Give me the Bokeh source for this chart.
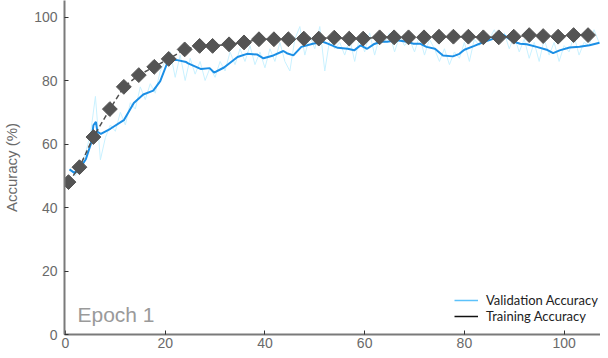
import math
from bokeh.plotting import figure
from bokeh.models import Range1d, Legend, LegendItem, Label, FixedTicker
from bokeh.embed import file_html
from bokeh.resources import INLINE

# Training accuracy (markers every ~3 epochs)
train_epoch = [0.6, 2.8, 5.6, 8.9, 11.7, 14.7, 17.8, 20.7, 23.9, 26.9, 29.5, 32.8,
               35.8, 38.8, 41.8, 44.7, 47.8, 50.8, 53.9, 56.9, 59.7, 63.0, 65.9, 68.8,
               71.9, 74.9, 77.8, 80.8, 83.8, 86.9, 89.9, 93.0, 95.8, 98.8, 101.9, 104.8]
train_acc = [48.0, 52.7, 62.2, 71.0, 78.0, 81.7, 84.3, 86.8, 89.8, 90.9, 90.9, 91.4,
             92.0, 93.0, 93.0, 93.0, 93.2, 93.2, 93.5, 93.2, 93.2, 93.6, 93.6, 93.6,
             93.6, 93.8, 93.8, 93.8, 93.6, 93.6, 93.8, 94.3, 94.0, 93.8, 94.3, 94.3]

# Smoothed validation accuracy
val_s_epoch = [0.8, 1.8, 2.8, 4.1, 5.1, 5.6, 6.1, 6.4, 7.1, 9.0, 11.7, 13.7, 15.6, 17.6,
               19.0, 20.6, 22.2, 24.2, 24.6, 27.2, 28.9, 29.8, 31.8, 34.5, 36.4, 38.4,
               39.7, 41.7, 43.7, 44.4, 45.7, 47.3, 49.6, 51.6, 52.6, 54.6, 56.6, 57.9,
               59.2, 60.5, 61.8, 63.2, 64.5, 66.5, 68.5, 69.8, 71.1, 72.4, 74.1, 75.7,
               77.7, 79.0, 80.0, 82.0, 84.0, 85.9, 87.9, 89.9, 91.2, 92.5, 94.5, 96.5,
               97.8, 99.1, 101.1, 103.1, 105.1, 107.1]
val_s_acc = [52.0, 50.9, 52.1, 55.3, 60.1, 65.9, 67.0, 63.8, 63.2, 64.8, 67.5, 72.9, 75.6, 76.8,
             79.8, 86.3, 86.5, 85.8, 85.4, 83.6, 83.9, 82.5, 84.1, 87.4, 88.4, 88.2,
             87.0, 87.9, 89.3, 88.6, 87.9, 90.6, 91.6, 92.2, 91.6, 90.3, 90.0, 89.5,
             91.1, 90.0, 91.4, 92.2, 92.2, 92.7, 92.2, 91.6, 91.6, 90.6, 90.0, 87.9,
             87.6, 88.4, 89.7, 90.9, 92.2, 93.2, 94.3, 92.2, 91.6, 91.4, 90.6, 89.7,
             88.6, 89.5, 90.4, 90.6, 91.1, 91.9]

# Raw validation accuracy (per epoch)
val_r_epoch = list(range(1, 108))
val_r_acc = [52, 50, 53, 57, 63, 75, 55, 62, 66, 64, 70, 66, 73, 71, 78, 74, 79, 76, 83, 86,
             89, 81, 88, 80, 87, 82, 86, 80, 84, 81, 86, 83, 89, 85, 90, 86, 91, 85, 89, 84,
             90, 86, 92, 86, 83, 93, 97, 88, 94, 90, 97, 83, 93, 90, 92, 88, 93, 86, 94, 89,
             95, 88, 94, 92, 95, 89, 94, 91, 93, 89, 94, 88, 93, 90, 86, 90, 85, 89, 87, 92,
             86, 93, 91, 95, 93, 96, 92, 95, 90, 94, 89, 93, 87, 92, 86, 93, 88, 92, 86, 91,
             89, 94, 88, 92, 91, 96, 92]

x_ticks = [0, 20, 40, 60, 80, 100]
y_ticks = [0, 20, 40, 60, 80, 100]

AX = "#7a7a7a"
p = figure(width=600, height=350, output_backend="svg", toolbar_location=None,
           x_range=Range1d(-0.2, 107.3), y_range=Range1d(0, 105.2),
           min_border_left=0, min_border_right=0, min_border_top=0, min_border_bottom=0)
p.outline_line_color = None
p.xgrid.visible = False
p.ygrid.visible = False

p.line(val_r_epoch, val_r_acc, line_color="#c9f1ff", line_width=1)
p.line(val_s_epoch, val_s_acc, line_color="#1b8fe6", line_width=2)
p.line(train_epoch, train_acc, line_color="#505050", line_width=1.5, line_dash="5 3")
p.scatter(train_epoch, train_acc, marker="square", size=10.5, angle=math.pi / 4,
          fill_color="#545454", line_color="#545454", line_width=1)

nan = float("nan")
leg_v = p.line([nan], [nan], line_color="#5cc2fb", line_width=1.5)
leg_t = p.line([nan], [nan], line_color="#111111", line_width=1.5)
legend = Legend(items=[LegendItem(label="Validation Accuracy", renderers=[leg_v]),
                       LegendItem(label="Training Accuracy", renderers=[leg_t])],
                location=(390, 10), padding=0, margin=0, spacing=0,
                glyph_width=24, glyph_height=14, label_height=14,
                label_text_font="Lato", label_text_font_size="13px",
                label_text_line_height=1.0,
                label_text_color="#222222", label_standoff=8,
                border_line_color=None, background_fill_alpha=0)
p.add_layout(legend, "center")

p.add_layout(Label(x=2.4, y=6.3, text="Epoch 1", text_font="Liberation Sans",
                   text_font_size="21px", text_color="#9a9a9a",
                   text_baseline="alphabetic"))

for ax in (p.xaxis[0], p.yaxis[0]):
    ax.axis_line_color = AX
    ax.axis_line_width = 2
    ax.major_tick_line_color = "#333333"
    ax.major_tick_in = 4
    ax.major_tick_out = 0
    ax.minor_tick_line_color = None
    ax.major_label_text_font = "Liberation Sans"
    ax.major_label_text_font_size = "14px"
    ax.major_label_text_color = "#6a6a6a"

p.xaxis[0].ticker = FixedTicker(ticks=x_ticks)
p.yaxis[0].ticker = FixedTicker(ticks=y_ticks)
p.xaxis[0].major_label_standoff = 3
p.xaxis[0].axis_label_standoff = 0
p.yaxis[0].major_label_standoff = 7
p.yaxis[0].axis_label = "Accuracy (%)"
p.yaxis[0].axis_label_text_font = "Liberation Sans"
p.yaxis[0].axis_label_text_font_size = "15px"
p.yaxis[0].axis_label_text_font_style = "normal"
p.yaxis[0].axis_label_text_color = "#6a6a6a"
p.yaxis[0].axis_label_standoff = 11

open("out.html", "w").write(file_html(p, INLINE))
